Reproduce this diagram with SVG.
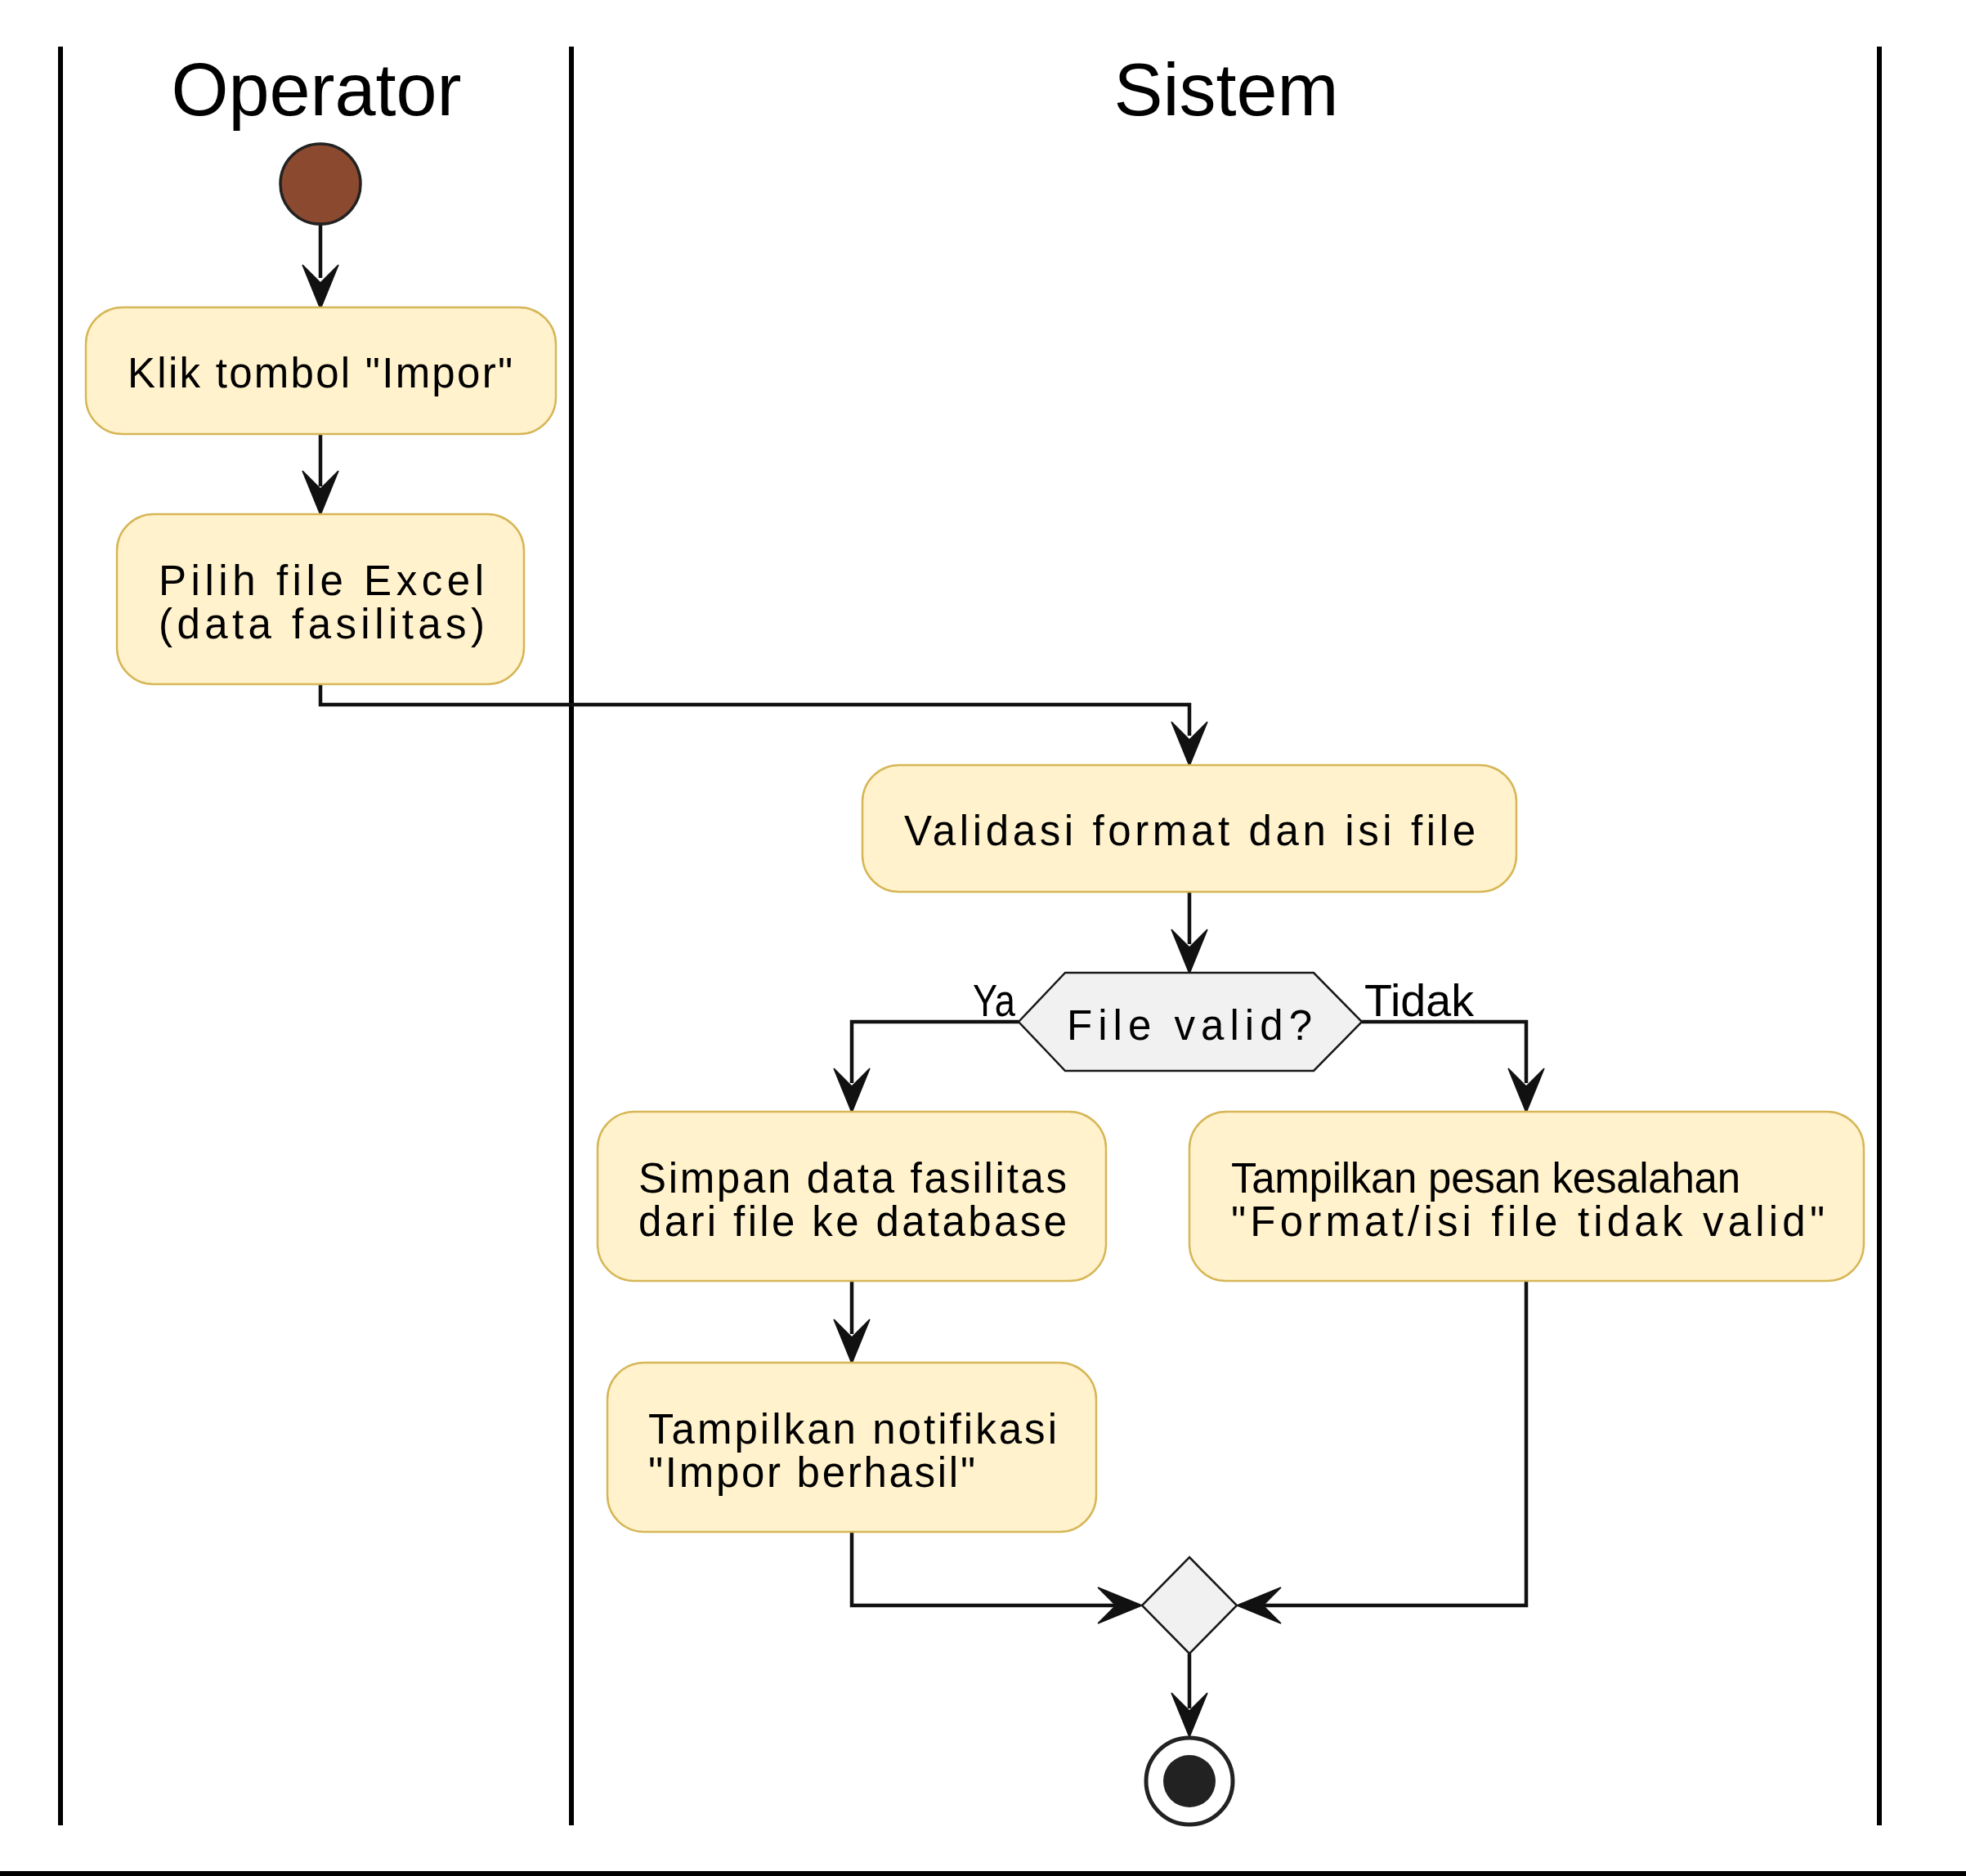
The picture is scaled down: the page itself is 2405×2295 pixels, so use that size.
<svg xmlns="http://www.w3.org/2000/svg" width="2405" height="2295" viewBox="0 0 2405 2295">
<style>
.lane{stroke:#000;stroke-width:6;fill:none}
.title{font-family:"Liberation Sans",Arial,sans-serif;font-size:90px;fill:#000}
.act{fill:#FFF2CC;stroke:#D6B656;stroke-width:2.5}
.t{font-family:"Liberation Sans",Arial,sans-serif;font-size:51px;fill:#000}
.lbl{font-family:"Liberation Sans",Arial,sans-serif;font-size:55px;fill:#000}
.dec{fill:#F1F1F1;stroke:#181818;stroke-width:2.5}
.edge{stroke:#111;stroke-width:4.5;fill:none}
.ah{fill:#111;stroke:#111;stroke-width:1.5}
</style>
<rect x="0" y="0" width="2405" height="2295" fill="#fff"/>
<g id="lanes">
<line class="lane" x1="74" y1="57" x2="74" y2="2233"/>
<line class="lane" x1="699" y1="57" x2="699" y2="2233"/>
<line class="lane" x1="2299" y1="57" x2="2299" y2="2233"/>
<line x1="0" y1="2292" x2="2405" y2="2292" stroke="#000" stroke-width="6"/>
<text class="title" x="387" y="141" text-anchor="middle">Operator</text>
<text class="title" x="1500" y="141" text-anchor="middle">Sistem</text>
</g>
<g id="connectors">
<path class="edge" d="M392,275 V340"/>
<polygon class="ah" points="392,378 370,324 392,346 414,324"/>
<path class="edge" d="M392,531 V595"/>
<polygon class="ah" points="392,630 370,576 392,598 414,576"/>
<path class="edge" d="M392,837 V862 H1455 V900"/>
<polygon class="ah" points="1455,937 1433,883 1455,905 1477,883"/>
<path class="edge" d="M1455,1091 V1155"/>
<polygon class="ah" points="1455,1191 1433,1137 1455,1159 1477,1137"/>
<path class="edge" d="M1246,1250 H1042 V1325"/>
<polygon class="ah" points="1042,1361 1020,1307 1042,1329 1064,1307"/>
<path class="edge" d="M1666,1250 H1867 V1325"/>
<polygon class="ah" points="1867,1361 1845,1307 1867,1329 1889,1307"/>
<path class="edge" d="M1042,1567 V1632"/>
<polygon class="ah" points="1042,1668 1020,1614 1042,1636 1064,1614"/>
<path class="edge" d="M1042,1874 V1964 H1365"/>
<polygon class="ah" points="1397,1964 1343,1942 1365,1964 1343,1986"/>
<path class="edge" d="M1867,1567 V1964 H1545"/>
<polygon class="ah" points="1513,1964 1567,1942 1545,1964 1567,1986"/>
<path class="edge" d="M1455,2023 V2090"/>
<polygon class="ah" points="1455,2125 1433,2071 1455,2093 1477,2071"/>
<text class="lbl" x="1190" y="1243" textLength="52" lengthAdjust="spacingAndGlyphs">Ya</text>
<text class="lbl" x="1669" y="1243" textLength="134" lengthAdjust="spacingAndGlyphs">Tidak</text>
</g>
<g id="start">
<circle cx="392" cy="225" r="49" fill="#8B4A30" stroke="#222" stroke-width="3.5"/>
</g>
<g id="klik">
<rect class="act" x="105" y="376" width="575" height="155" rx="45"/>
<text class="t" x="156" y="474" textLength="471" lengthAdjust="spacing">Klik tombol "Impor"</text>
</g>
<g id="pilih">
<rect class="act" x="143" y="629" width="498" height="208" rx="45"/>
<text class="t" x="194" y="728" textLength="398" lengthAdjust="spacing">Pilih file Excel</text>
<text class="t" x="194" y="781" textLength="399" lengthAdjust="spacing">(data fasilitas)</text>
</g>
<g id="validasi">
<rect class="act" x="1055" y="936" width="800" height="155" rx="45"/>
<text class="t" x="1106" y="1034" textLength="699" lengthAdjust="spacing">Validasi format dan isi file</text>
</g>
<g id="decision">
<polygon class="dec" points="1246,1250 1303,1190 1607,1190 1666,1250 1607,1310 1303,1310"/>
<text class="t" x="1305" y="1272" textLength="300" lengthAdjust="spacing">File valid?</text>
</g>
<g id="simpan">
<rect class="act" x="731" y="1360" width="622" height="207" rx="45"/>
<text class="t" x="781" y="1459" textLength="524" lengthAdjust="spacing">Simpan data fasilitas</text>
<text class="t" x="781" y="1512" textLength="524" lengthAdjust="spacing">dari file ke database</text>
</g>
<g id="pesan">
<rect class="act" x="1455" y="1360" width="825" height="207" rx="45"/>
<text class="t" x="1506" y="1459" textLength="623" lengthAdjust="spacing">Tampilkan pesan kesalahan</text>
<text class="t" x="1506" y="1512" textLength="726" lengthAdjust="spacing">"Format/isi file tidak valid"</text>
</g>
<g id="notifikasi">
<rect class="act" x="743" y="1667" width="598" height="207" rx="45"/>
<text class="t" x="793" y="1766" textLength="500" lengthAdjust="spacing">Tampilkan notifikasi</text>
<text class="t" x="793" y="1819" textLength="400" lengthAdjust="spacing">"Impor berhasil"</text>
</g>
<g id="merge">
<polygon class="dec" points="1455,1905 1513,1964 1455,2023 1397,1964"/>
</g>
<g id="end">
<circle cx="1455" cy="2179" r="53" fill="#fff" stroke="#222" stroke-width="5"/>
<circle cx="1455" cy="2179" r="32" fill="#222"/>
</g>
</svg>
